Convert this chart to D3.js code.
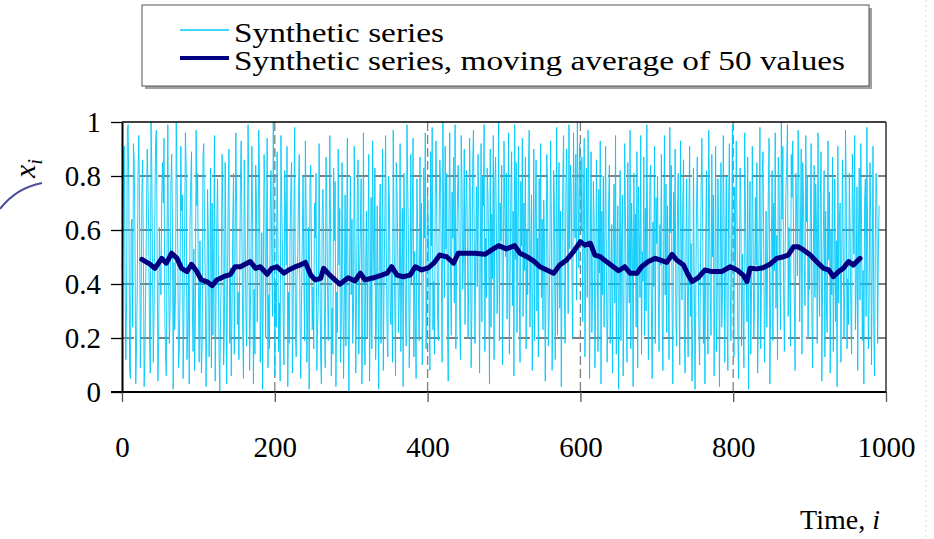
<!DOCTYPE html>
<html><head><meta charset="utf-8">
<script src="https://cdn.jsdelivr.net/npm/d3@7"></script>
<style>
html,body{margin:0;padding:0;background:#fff;}
svg{display:block;}
text{font-family:"Liberation Serif","Times New Roman",serif;fill:#000;}
</style></head>
<body><svg id="chart" width="934" height="539"></svg>
<script>
// ---- data ----
const xTicks = [0, 200, 400, 600, 800, 1000];
const yTicks = [0, 0.2, 0.4, 0.6, 0.8, 1];
const yTickLabels = ["0", "0.2", "0.4", "0.6", "0.8", "1"];
const seriesNames = ["Synthetic series", "Synthetic series, moving average of 50 values"];
const xTitle = "Time, ";
const xTitleVar = "i";

// synthetic series, values in hundredths, one row per 50 time steps
const rawRows = [
[46,52,88,91,40,12,33,97,99,71,8,5,60,64,24,92,85,55,3,17,40,81,95,68,9,28,74,86,51,2,14,38,63,90,77,58,21,7,100,83,45,11,30,66,93,97,52,4,19,61],
[43,36,72,85,70,94,29,13,6,57,99,42,18,31,76,88,64,1,48,23,35,100,80,54,9,16,39,91,67,73,5,27,59,96,84,12,22,47,3,62,78,89,34,15,53,8,25,97,69,81],
[37,11,56,30,7,19,87,92,64,41,2,26,75,58,13,36,83,9,70,21,48,95,4,33,61,79,52,15,0,28,44,88,67,10,23,85,56,3,38,72,90,18,46,6,31,63,81,14,50,96],
[69,25,37,12,40,78,93,57,22,5,86,66,34,17,45,99,73,8,29,53,91,62,3,38,14,84,70,26,48,97,80,11,32,59,1,43,88,75,20,55,94,9,36,16,67,82,51,28,100,64],
[6,41,24,89,60,15,33,4,95,71,53,27,10,82,68,47,91,2,37,18,58,76,85,7,30,64,98,21,13,42,50,73,88,26,5,35,56,80,44,19,93,67,11,29,61,1,77,84,52,23],
[39,16,70,57,81,8,24,34,92,49,13,3,66,75,54,28,9,87,71,39,19,45,95,62,6,31,14,83,56,78,2,37,22,90,47,68,11,27,85,40,5,33,73,17,59,94,25,0,50,80],
[36,64,18,29,91,52,7,38,74,86,14,45,61,79,3,24,96,33,10,48,67,20,55,88,4,30,72,16,93,58,41,83,12,26,69,35,1,62,77,18,47,90,8,39,64,95,53,21,13,80],
[71,32,25,46,11,97,63,34,6,85,74,50,22,37,92,15,43,68,2,81,59,28,17,99,76,55,9,31,88,40,66,94,13,52,24,5,79,61,36,19,87,45,70,10,27,83,57,96,16,42],
[73,60,33,8,89,54,98,23,41,14,72,93,65,30,19,58,86,77,47,11,100,62,35,91,53,81,26,4,68,96,44,21,74,57,87,33,99,16,49,70,84,63,27,12,95,78,38,52,90,25],
[67,82,59,20,46,94,71,9,31,85,97,60,18,53,76,39,88,64,7,48,92,26,80,69,99,15,57,35,83,73,51,3,90,24,66,42,95,12,78,87,61,29,45,100,19,70,56,84,10,37],
[93,68,50,81,27,58,96,14,43,75,89,32,67,6,99,49,85,22,62,91,38,11,78,54,94,28,70,45,87,16,60,36,83,97,24,52,73,8,41,90,19,65,86,30,57,13,79,47,92,35],
[64,23,71,55,4,39,88,76,17,26,50,93,63,8,34,82,70,12,45,98,21,58,85,31,67,2,48,79,95,37,18,73,90,61,29,99,53,84,77,41,20,96,65,57,88,34,100,72,46,92],
[81,60,87,26,68,94,13,49,83,35,97,71,5,57,89,22,40,78,64,9,31,86,52,15,75,44,93,3,67,36,80,24,59,91,47,11,29,72,84,18,38,62,7,55,77,33,95,14,50,69],
[1,42,82,19,58,73,6,37,92,64,28,11,85,49,33,97,16,70,55,2,81,44,66,24,89,9,76,60,35,95,14,52,41,87,21,68,30,99,57,12,46,78,84,27,5,63,39,91,18,72],
[55,80,34,15,62,47,88,29,8,54,95,36,77,22,69,43,12,98,59,84,31,3,74,50,90,26,17,65,81,40,10,93,58,34,71,86,23,7,48,79,38,13,66,91,28,55,4,20,83,42],
[1,33,69,87,52,25,10,39,76,94,63,18,45,3,57,82,29,14,97,68,36,21,88,50,73,6,43,91,15,32,79,60,2,47,85,24,37,95,66,11,54,80,27,8,71,92,41,19,58,99],
[35,13,76,45,93,64,22,5,40,83,74,17,51,30,9,96,68,44,26,87,1,55,78,14,38,91,60,20,33,72,47,85,7,29,63,98,16,42,80,89,53,11,35,67,24,48,75,94,3,31],
[57,82,19,70,45,96,31,58,12,87,79,46,23,100,64,91,37,15,52,75,84,99,28,61,40,17,88,72,93,55,34,8,81,67,43,97,76,26,59,90,14,85,71,48,32,95,63,80,20,51],
[38,66,92,27,9,53,84,35,77,62,18,96,45,28,71,89,4,40,58,82,13,67,31,22,93,49,74,7,60,36,87,15,44,79,26,56,2,91,33,64,70,11,47,86,54,20,38,97,73,16],
[42,25,81,59,30,14,88,67,51,95,23,40,76,8,57,83,34,92,62,19,45,3,71,79,28,98,53,16,37,85,64,10,48,91,25,6,56,81,73,18,52,69]
];

// moving average (50 values), read as (time index, value) pairs
const maIndex = [26,37,43,52,58,65,72,78,85,91,98,104,111,118,124,133,142,148,155,161,168,175,181,190,196,203,212,218,227,233,240,247,253,260,264,272,285,296,305,312,318,329,340,347,353,360,368,377,384,392,401,408,416,425,434,440,451,462,475,484,493,503,514,521,530,539,547,556,565,573,582,591,600,606,613,619,626,634,643,650,658,665,674,680,689,698,704,713,720,726,735,740,746,754,763,772,785,796,805,813,818,822,831,839,848,857,866,872,879,885,892,901,909,918,925,931,938,944,951,957,966];
const maValue = [0.491,0.473,0.458,0.495,0.477,0.514,0.495,0.458,0.446,0.473,0.446,0.415,0.409,0.394,0.415,0.427,0.436,0.464,0.464,0.473,0.483,0.458,0.464,0.436,0.458,0.464,0.440,0.452,0.464,0.470,0.480,0.433,0.415,0.421,0.458,0.433,0.399,0.423,0.411,0.440,0.415,0.423,0.433,0.440,0.464,0.433,0.427,0.433,0.464,0.452,0.460,0.477,0.507,0.501,0.477,0.514,0.514,0.514,0.510,0.526,0.542,0.530,0.542,0.514,0.501,0.485,0.464,0.452,0.440,0.470,0.489,0.520,0.557,0.544,0.551,0.507,0.501,0.483,0.464,0.449,0.464,0.440,0.440,0.464,0.483,0.495,0.489,0.480,0.510,0.489,0.470,0.440,0.409,0.423,0.452,0.446,0.446,0.464,0.452,0.433,0.409,0.458,0.456,0.460,0.473,0.495,0.501,0.507,0.538,0.538,0.526,0.507,0.483,0.458,0.452,0.427,0.446,0.458,0.483,0.470,0.495];

// ---- drawing ----
const svg = d3.select("#chart");
const W = 934, H = 539;
const plot = {left: 122, right: 886, top: 122, bottom: 392};

const x = d3.scaleLinear().domain([0, 1000]).range([plot.left, plot.right]);
const y = d3.scaleLinear().domain([0, 1]).range([plot.bottom, plot.top]);

const raw = rawRows.flat().map((v, i) => ({i: i, v: v / 100}));
const ma = maIndex.map((d, k) => ({i: d, v: maValue[k]}));

// faint slide decoration at right edge
svg.append("line").attr("x1", 926).attr("x2", 926).attr("y1", 0).attr("y2", H)
  .attr("stroke", "#dfe5f7").attr("stroke-width", 1.5).attr("stroke-dasharray", "2,3");

// horizontal grid (dashed black)
svg.append("g").selectAll("line").data(yTicks.filter(t => t > 0 && t < 1)).join("line")
  .attr("x1", plot.left).attr("x2", plot.right)
  .attr("y1", d => y(d)).attr("y2", d => y(d))
  .attr("stroke", "#000").attr("stroke-width", 1.1).attr("stroke-dasharray", "12,6");

// vertical grid (dashed grey)
svg.append("g").selectAll("line").data(xTicks.filter(t => t > 0 && t < 1000)).join("line")
  .attr("x1", d => x(d)).attr("x2", d => x(d))
  .attr("y1", plot.top).attr("y2", plot.bottom)
  .attr("stroke", "#808080").attr("stroke-width", 1.3).attr("stroke-dasharray", "9,4");

// raw series
svg.append("path").datum(raw)
  .attr("fill", "none").attr("stroke", "#00c8fa").attr("stroke-width", 0.9)
  .attr("stroke-linejoin", "miter")
  .attr("d", d3.line().x(d => x(d.i)).y(d => y(d.v)));

// moving average
svg.append("path").datum(ma)
  .attr("fill", "none").attr("stroke", "#000080").attr("stroke-width", 5)
  .attr("stroke-linejoin", "round").attr("stroke-linecap", "round")
  .attr("d", d3.line().x(d => x(d.i)).y(d => y(d.v)));

// frame: top and right
svg.append("line").attr("x1", plot.left).attr("x2", plot.right).attr("y1", plot.top).attr("y2", plot.top)
  .attr("stroke", "#000").attr("stroke-width", 1.5);
svg.append("line").attr("x1", plot.right).attr("x2", plot.right).attr("y1", plot.top).attr("y2", plot.bottom)
  .attr("stroke", "#333").attr("stroke-width", 1.5);

// axes
const xAxis = d3.axisBottom(x).tickValues(xTicks).tickSize(10).tickSizeOuter(0).tickPadding(34)
  .tickFormat(d3.format("d"));
const gx = svg.append("g").attr("transform", `translate(0,${plot.bottom})`).call(xAxis);
gx.select(".domain").attr("stroke", "#000").attr("stroke-width", 2).attr("d", `M${plot.left - 11},0H${plot.right}`);
gx.selectAll(".tick line").attr("stroke", "#555").attr("stroke-width", 1.3);
gx.selectAll(".tick text").attr("font-size", 29).attr("fill", "#000");

const yAxis = d3.axisLeft(y).tickValues(yTicks).tickSize(11).tickSizeOuter(0).tickPadding(10)
  .tickFormat((d, k) => yTickLabels[k]);
const gy = svg.append("g").attr("transform", `translate(${plot.left},0)`).call(yAxis);
gy.select(".domain").attr("stroke", "#000").attr("stroke-width", 2);
gy.selectAll(".tick line").attr("stroke", "#000").attr("stroke-width", 1.3);
gy.selectAll(".tick text").attr("font-size", 29).attr("fill", "#000");

// axis titles
const xt = svg.append("text").attr("x", 880).attr("y", 529).attr("text-anchor", "end").attr("font-size", 28);
xt.append("tspan").text(xTitle);
xt.append("tspan").attr("font-style", "italic").text(xTitleVar);

const yt = svg.append("text").attr("transform", "translate(35,178) rotate(-90)").attr("font-size", 30)
  .attr("font-style", "italic");
yt.append("tspan").text("x");
yt.append("tspan").attr("dy", 7).attr("font-size", 21).text("i");

// left arc decoration
svg.append("path").attr("d", "M0,209 Q16,188 42,183").attr("fill", "none")
  .attr("stroke", "#4a4c9a").attr("stroke-width", 2);

// legend
const lg = svg.append("g");
lg.append("rect").attr("x", 145).attr("y", 8).attr("width", 727).attr("height", 81).attr("fill", "#a0a0a0");
lg.append("rect").attr("x", 142).attr("y", 5).attr("width", 727).attr("height", 81)
  .attr("fill", "#fff").attr("stroke", "#555").attr("stroke-width", 1);
const legendRows = [
  {name: seriesNames[0], color: "#00c8fa", w: 1.3, yl: 30, yt: 42, len: 210},
  {name: seriesNames[1], color: "#000080", w: 4, yl: 58, yt: 70, len: 611}
];
legendRows.forEach(r => {
  lg.append("line").attr("x1", 180).attr("x2", 229).attr("y1", r.yl).attr("y2", r.yl)
    .attr("stroke", r.color).attr("stroke-width", r.w);
  lg.append("text").attr("x", 234).attr("y", r.yt).attr("font-size", 28)
    .attr("textLength", r.len).attr("lengthAdjust", "spacingAndGlyphs").text(r.name);
});
</script>
</body></html>
